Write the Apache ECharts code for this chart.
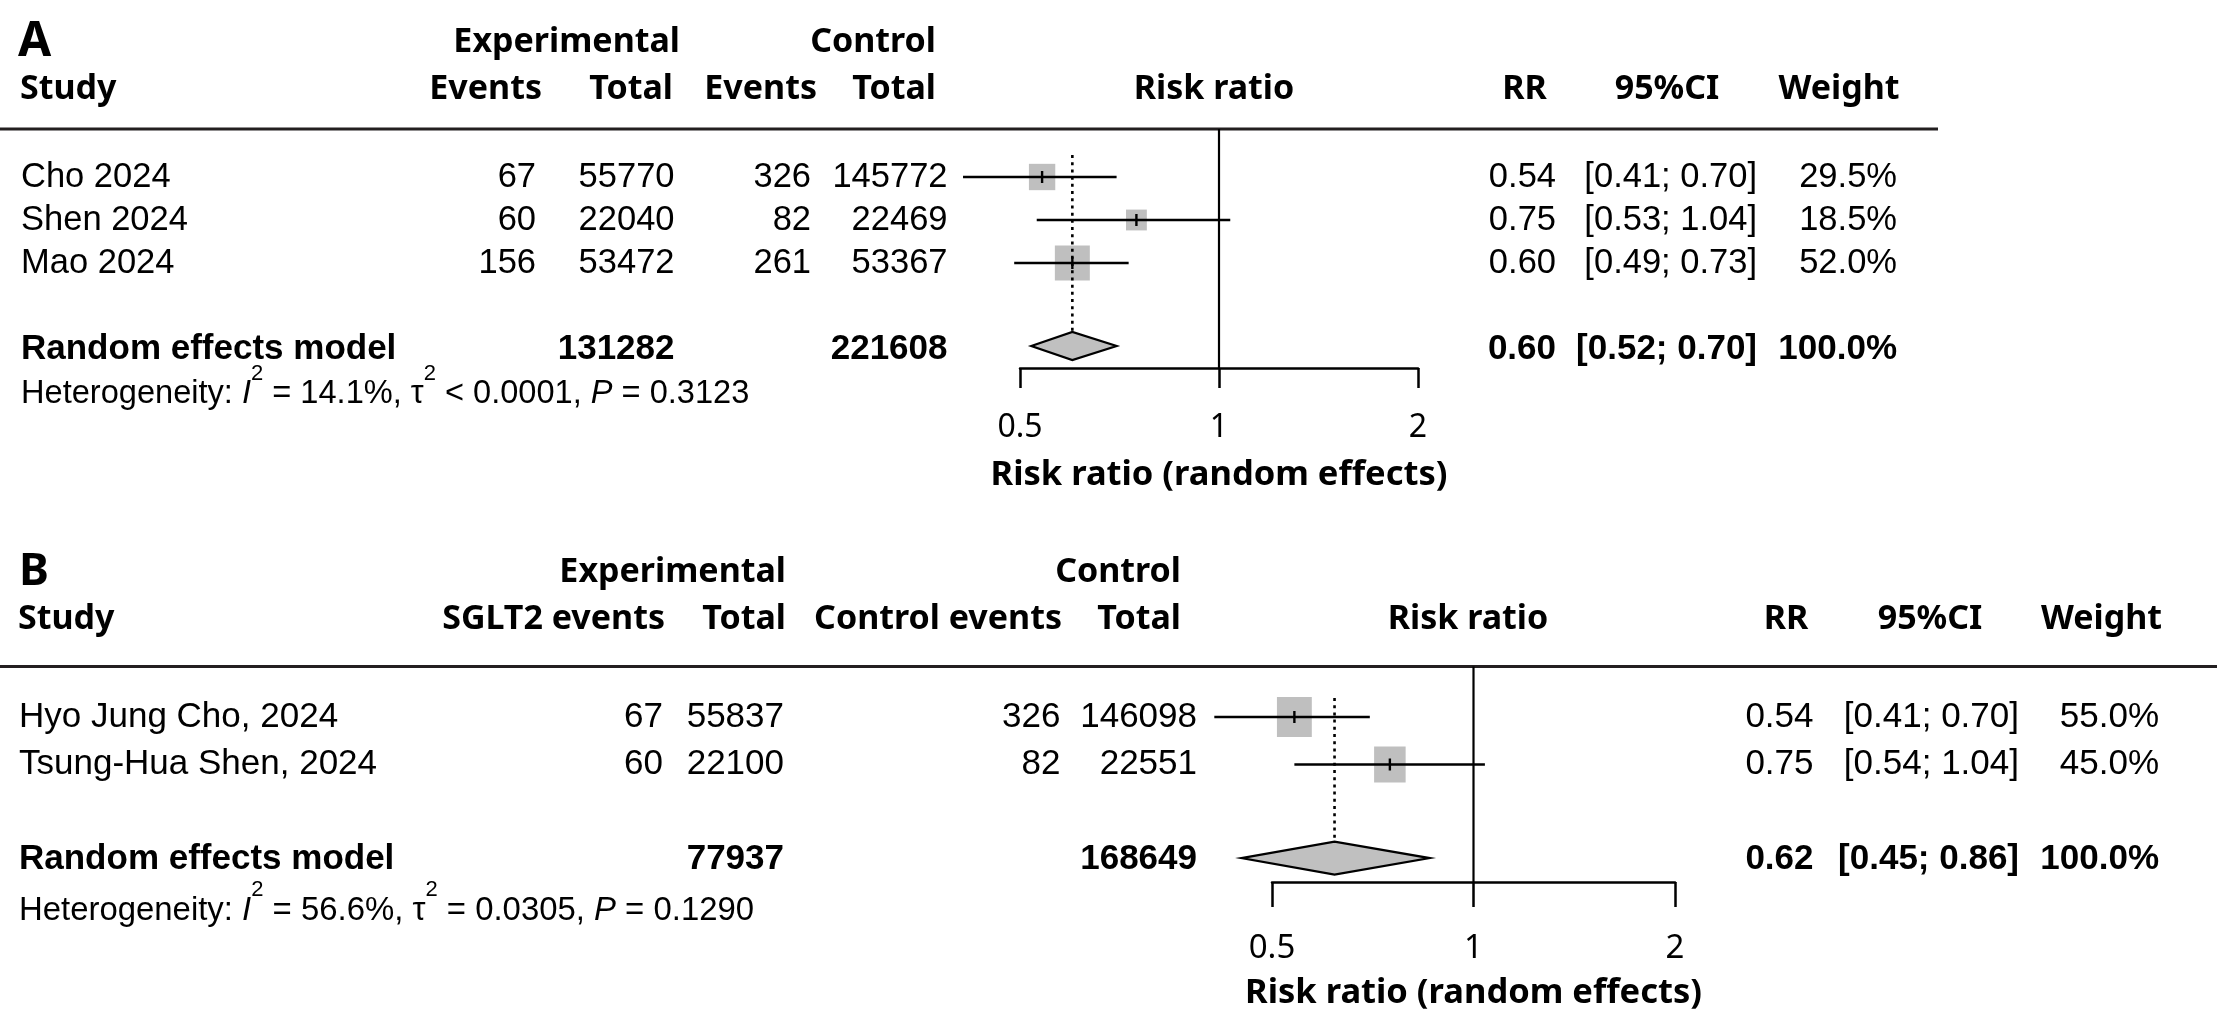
<!DOCTYPE html>
<html>
<head>
<meta charset="utf-8">
<title>Forest plots</title>
<script src="https://cdn.jsdelivr.net/npm/echarts@6/dist/echarts.min.js"></script>
<style>
  html, body { margin: 0; padding: 0; background: #fff; }
  #chart { width: 2217px; height: 1031px; }
</style>
</head>
<body>
<div id="chart"></div>
<script>
// ---- Panel A data ----
const studiesA = ['Cho 2024', 'Shen 2024', 'Mao 2024'];
const expEventsA = [67, 60, 156];
const expTotalA = [55770, 22040, 53472];
const ctrlEventsA = [326, 82, 261];
const ctrlTotalA = [145772, 22469, 53367];
const rrA = [0.54, 0.75, 0.60];
const lowerA = [0.41, 0.53, 0.49];
const upperA = [0.70, 1.04, 0.73];
const weightA = [29.5, 18.5, 52.0];
const pooledA = [0.60, 0.52, 0.70];          // RR, lower, upper
const pooledTotalsA = [131282, 221608];
const hetA = ['14.1%', '< 0.0001', '0.3123']; // I2, tau2, P
const groupHeadA = ['Experimental', 'Control'];
const colHeadA = ['Study', 'Events', 'Total', 'Events', 'Total', 'Risk ratio', 'RR', '95%CI', 'Weight'];

// ---- Panel B data ----
const studiesB = ['Hyo Jung Cho, 2024', 'Tsung-Hua Shen, 2024'];
const expEventsB = [67, 60];
const expTotalB = [55837, 22100];
const ctrlEventsB = [326, 82];
const ctrlTotalB = [146098, 22551];
const rrB = [0.54, 0.75];
const lowerB = [0.41, 0.54];
const upperB = [0.70, 1.04];
const weightB = [55.0, 45.0];
const pooledB = [0.62, 0.45, 0.86];
const pooledTotalsB = [77937, 168649];
const hetB = ['56.6%', '= 0.0305', '0.1290'];
const groupHeadB = ['Experimental', 'Control'];
const colHeadB = ['Study', 'SGLT2 events', 'Total', 'Control events', 'Total', 'Risk ratio', 'RR', '95%CI', 'Weight'];

const tickValues = [0.5, 1, 2];
const axisTitle = 'Risk ratio (random effects)';

const DATA_FONT = "'Liberation Sans', Arial, sans-serif";
const HEAD_FONT = "'Noto Sans', 'DejaVu Sans', sans-serif";

// layout (pixels) for each panel
const layoutA = {
  label: 'A', top: 129, bottom: 368, row0: 177, rowH: 43, x0: 1020, x1: 1418,
  fData: 34.5, fBold: 35, fHead: 34, fLabel: 48, fHet: 32.6, fTick: 32, fName: 34.5,
  tickLen: 20, labelMargin: 44, nameGap: 90, lineEnd: 1938,
  sqK: [4.85, 4.85], dHalf: 14, dOff: -0.07, dotRow: -0.51,
  titleRow: -3.13, headRow: -2.05, hetOff: 1.05, labelX: 18,
  cols: [[21, 'left'], [536, 'right'], [674.5, 'right'], [811, 'right'], [947.5, 'right'], null,
         [1556, 'right'], [1757, 'right'], [1897, 'right']],
  headCols: [[20, 'left'], [542, 'right'], [673, 'right'], [817, 'right'], [936, 'right'], [1214, 'center'],
             [1524.5, 'center'], [1667, 'center'], [1839, 'center']],
  groupCols: [[680, 'right'], [936, 'right']]
};
const layoutB = {
  label: 'B', top: 666.5, bottom: 882, row0: 717, rowH: 47.5, x0: 1272, x1: 1675,
  fData: 35, fBold: 35, fHead: 34, fLabel: 45, fHet: 32.9, fTick: 33, fName: 34.5,
  tickLen: 25, labelMargin: 50, nameGap: 94, lineEnd: 2217,
  sqK: [4.7, 5.4], dHalf: 16.5, dOff: -0.03, dotRow: -0.4,
  titleRow: -3.05, headRow: -2.06, hetOff: 1.08, labelX: 19,
  cols: [[19, 'left'], [663, 'right'], [784, 'right'], [1060.5, 'right'], [1197, 'right'], null,
         [1813.5, 'right'], [2019, 'right'], [2159, 'right']],
  headCols: [[18, 'left'], [665, 'right'], [786, 'right'], [1062, 'right'], [1181, 'right'], [1468, 'center'],
             [1786, 'center'], [1930, 'center'], [2101.5, 'center']],
  groupCols: [[786, 'right'], [1181, 'right']]
};
[layoutA, layoutB].forEach(L => {
  L.yMin = (L.top - L.row0) / L.rowH;
  L.yMax = (L.bottom - L.row0) / L.rowH;
});

function fmtCI(lo, hi) {
  return '[' + lo.toFixed(2) + '; ' + hi.toFixed(2) + ']';
}

// text cells of the table part of one panel
function buildCells(L, d) {
  const cells = [];
  const head = { family: HEAD_FONT, size: L.fHead, weight: 'bold' };
  const reg = { family: DATA_FONT, size: L.fData, weight: 'normal' };
  const bold = { family: DATA_FONT, size: L.fBold, weight: 'bold' };
  const put = (row, col, text, f) => cells.push(Object.assign({ row: row, x: col[0], align: col[1], text: text }, f));

  put(L.titleRow, [L.labelX, 'left'], L.label, { family: HEAD_FONT, size: L.fLabel, weight: 'bold' });
  d.groupHead.forEach((t, i) => put(L.titleRow, L.groupCols[i], t, head));
  d.colHead.forEach((t, i) => put(L.headRow, L.headCols[i], t, head));

  d.studies.forEach((s, i) => {
    put(i, L.cols[0], s, reg);
    put(i, L.cols[1], String(d.expEvents[i]), reg);
    put(i, L.cols[2], String(d.expTotal[i]), reg);
    put(i, L.cols[3], String(d.ctrlEvents[i]), reg);
    put(i, L.cols[4], String(d.ctrlTotal[i]), reg);
    put(i, L.cols[6], d.rr[i].toFixed(2), reg);
    put(i, L.cols[7], fmtCI(d.lower[i], d.upper[i]), reg);
    put(i, L.cols[8], d.weight[i].toFixed(1) + '%', reg);
  });

  const pr = d.studies.length + 1;
  put(pr, L.cols[0], 'Random effects model', bold);
  put(pr, L.cols[2], String(d.totals[0]), bold);
  put(pr, L.cols[4], String(d.totals[1]), bold);
  put(pr, L.cols[6], d.pooled[0].toFixed(2), bold);
  put(pr, L.cols[7], fmtCI(d.pooled[1], d.pooled[2]), bold);
  put(pr, L.cols[8], '100.0%', bold);

  const hetText = 'Heterogeneity: {it|I}{sup|2} = ' + d.het[0] + ', {gr|\u03c4}{sup|2} ' + d.het[1] +
    ', {it|P} = ' + d.het[2];
  put(pr + L.hetOff, L.cols[0], hetText, { family: DATA_FONT, size: L.fHet, weight: 'normal', rich: true });

  cells.push({ row: L.yMin, rule: true });
  return cells;
}

const panelData = [
  {
    L: layoutA,
    d: {
      studies: studiesA, expEvents: expEventsA, expTotal: expTotalA, ctrlEvents: ctrlEventsA,
      ctrlTotal: ctrlTotalA, rr: rrA, lower: lowerA, upper: upperA, weight: weightA,
      pooled: pooledA, totals: pooledTotalsA, het: hetA, groupHead: groupHeadA, colHead: colHeadA
    }
  },
  {
    L: layoutB,
    d: {
      studies: studiesB, expEvents: expEventsB, expTotal: expTotalB, ctrlEvents: ctrlEventsB,
      ctrlTotal: ctrlTotalB, rr: rrB, lower: lowerB, upper: upperB, weight: weightB,
      pooled: pooledB, totals: pooledTotalsB, het: hetB, groupHead: groupHeadB, colHead: colHeadB
    }
  }
];

function tableRenderer(cells, L) {
  return function (params, api) {
    const c = cells[params.dataIndex];
    const y = api.coord([1, api.value(1)])[1];
    if (c.rule) {
      return {
        type: 'line',
        shape: { x1: 0, y1: y, x2: L.lineEnd, y2: y },
        style: { stroke: '#231f20', lineWidth: 3 }
      };
    }
    const style = {
      text: c.text, fill: '#000', fontFamily: c.family, fontSize: c.size, fontWeight: c.weight,
      align: c.align, verticalAlign: 'middle'
    };
    if (c.rich) {
      const supSize = Math.round(c.size * 0.68);
      style.lineHeight = Math.round(c.size * 1.9);
      style.rich = {
        it: { fontStyle: 'italic', fontFamily: c.family, fontSize: c.size, fill: '#000' },
        gr: { fontFamily: c.family, fontSize: c.size, fill: '#000' },
        sup: { fontFamily: c.family, fontSize: supSize, lineHeight: supSize, fill: '#000', verticalAlign: 'top' }
      };
    }
    return { type: 'text', x: c.x, y: y, style: style };
  };
}

function studyRenderer(L) {
  return function (params, api) {
    const row = api.value(1);
    const est = api.coord([api.value(0), row]);
    const lo = api.coord([api.value(2), row]);
    const hi = api.coord([api.value(3), row]);
    const w = api.value(4);
    const sw = L.sqK[0] * Math.sqrt(w);
    const sh = L.sqK[1] * Math.sqrt(w);
    return {
      type: 'group',
      children: [
        { type: 'rect', shape: { x: est[0] - sw / 2, y: est[1] - sh / 2, width: sw, height: sh },
          style: { fill: '#bfbfbf' } },
        { type: 'line', shape: { x1: lo[0], y1: lo[1], x2: hi[0], y2: hi[1] },
          style: { stroke: '#000', lineWidth: 2.6 } },
        { type: 'line', shape: { x1: est[0], y1: est[1] - 6, x2: est[0], y2: est[1] + 6 },
          style: { stroke: '#000', lineWidth: 2.4 } }
      ]
    };
  };
}

function pooledRenderer(L) {
  return function (params, api) {
    const row = api.value(1);
    const est = api.coord([api.value(0), row]);
    const lo = api.coord([api.value(2), row]);
    const hi = api.coord([api.value(3), row]);
    const dotTop = api.coord([api.value(0), L.dotRow]);
    const refTop = api.coord([1, L.yMin]);
    const refBot = api.coord([1, L.yMax]);
    const h = L.dHalf;
    return {
      type: 'group',
      children: [
        { type: 'line', shape: { x1: refTop[0], y1: refTop[1], x2: refBot[0], y2: refBot[1] },
          style: { stroke: '#000', lineWidth: 2.2 } },
        { type: 'line', shape: { x1: est[0], y1: dotTop[1], x2: est[0], y2: est[1] - h },
          style: { stroke: '#000', lineWidth: 2.6, lineDash: [3, 4.2] } },
        { type: 'polygon',
          shape: { points: [[lo[0], est[1]], [est[0], est[1] - h], [hi[0], est[1]], [est[0], est[1] + h]] },
          style: { fill: '#c0c0c0', stroke: '#000', lineWidth: 2.2 } }
      ]
    };
  };
}

const grids = [], xAxes = [], yAxes = [], series = [];
panelData.forEach((p, k) => {
  const L = p.L, d = p.d;
  grids.push({ left: L.x0, width: L.x1 - L.x0, top: L.top, height: L.bottom - L.top, containLabel: false });
  xAxes.push({
    gridIndex: k, type: 'log', logBase: 2, min: 0.5, max: 2, position: 'bottom',
    axisLine: { onZero: false, lineStyle: { color: '#000', width: 2.5 } },
    axisTick: { length: L.tickLen, lineStyle: { color: '#000', width: 2.5 }, customValues: tickValues },
    axisLabel: { margin: L.labelMargin, fontSize: L.fTick, fontFamily: HEAD_FONT, color: '#000',
                 customValues: tickValues, formatter: v => String(+v) },
    splitLine: { show: false },
    name: axisTitle, nameLocation: 'middle', nameGap: L.nameGap,
    nameTextStyle: { fontSize: L.fName, fontWeight: 'bold', fontFamily: HEAD_FONT, color: '#000' }
  });
  yAxes.push({ gridIndex: k, type: 'value', inverse: true, min: L.yMin, max: L.yMax, show: false });

  const cells = buildCells(L, d);
  series.push({
    type: 'custom', xAxisIndex: k, yAxisIndex: k, clip: false, silent: true,
    data: cells.map(c => [1, c.row]),
    encode: { x: 0, y: 1 },
    renderItem: tableRenderer(cells, L)
  });
  series.push({
    type: 'custom', xAxisIndex: k, yAxisIndex: k, clip: false, silent: true,
    data: d.rr.map((r, i) => [r, i, d.lower[i], d.upper[i], d.weight[i]]),
    encode: { x: 0, y: 1 },
    renderItem: studyRenderer(L)
  });
  series.push({
    type: 'custom', xAxisIndex: k, yAxisIndex: k, clip: false, silent: true,
    data: [[d.pooled[0], d.studies.length + 1 + L.dOff, d.pooled[1], d.pooled[2]]],
    encode: { x: 0, y: 1 },
    renderItem: pooledRenderer(L)
  });
});

const chart = echarts.init(document.getElementById('chart'));
chart.setOption({
  backgroundColor: '#fff',
  animation: false,
  grid: grids,
  xAxis: xAxes,
  yAxis: yAxes,
  series: series
});
window.addEventListener('resize', () => chart.resize());
</script>
</body>
</html>
